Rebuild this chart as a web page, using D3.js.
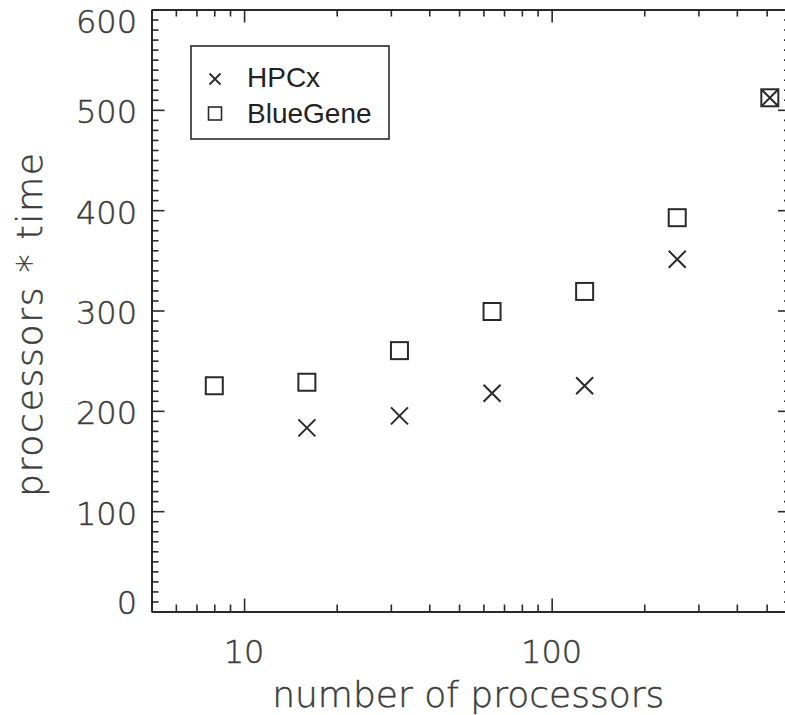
<!DOCTYPE html>
<html>
<head>
<meta charset="utf-8">
<script src="https://cdn.jsdelivr.net/npm/d3@7/dist/d3.min.js"></script>
<style>
  body { margin: 0; background: #fff; }
  svg { display: block; }
</style>
</head>
<body>
<svg id="chart"></svg>
<script>
// data
const bluegeneProcs = [8, 16, 32, 64, 128, 256, 512];
const bluegeneValues = [225, 228.5, 260, 299, 319, 392.5, 512];
const hpcxProcs = [16, 32, 64, 128, 256, 512];
const hpcxValues = [183, 195, 217.5, 225, 351, 512];

const xTickValues = [10, 100];
const xTickLabels = ["10", "100"];
const yTickValues = [0, 100, 200, 300, 400, 500, 600];
const yTickLabels = ["0", "100", "200", "300", "400", "500", "600"];

const width = 785, height = 715;
const frame = { left: 151.5, right: 791, top: 9.5, bottom: 611.5 };

const svg = d3.select("#chart")
    .attr("width", width)
    .attr("height", height);

const x = d3.scaleLog()
    .domain([5, 600])
    .range([frame.left, frame.right]);

const y = d3.scaleLinear()
    .domain([0, 600])
    .range([frame.bottom, frame.top]);

// minor ticks: 2..9 of every decade, 10 units on y
const xMinor = [];
[1, 10, 100].forEach(dec => d3.range(2, 10).forEach(m => {
    const v = m * dec;
    if (v > 5 && v < 600 && !xTickValues.includes(v)) xMinor.push(v);
}));
const yMinor = d3.range(0, 601, 10).filter(v => !yTickValues.includes(v));

const ink = "#2a2a2a";

// axes (ticks point inward, like IDL)
const bottomAxis = svg.append("g").attr("transform", `translate(0,${frame.bottom})`);
bottomAxis.call(d3.axisBottom(x).tickValues(xMinor).tickSizeInner(-7).tickSizeOuter(0).tickFormat(""));
bottomAxis.append("g").call(d3.axisBottom(x).tickValues(xTickValues).tickSizeInner(-13).tickSizeOuter(0).tickFormat(""));

const topAxis = svg.append("g").attr("transform", `translate(0,${frame.top})`);
topAxis.call(d3.axisTop(x).tickValues(xMinor).tickSizeInner(-7).tickSizeOuter(0).tickFormat(""));
topAxis.append("g").call(d3.axisTop(x).tickValues(xTickValues).tickSizeInner(-13).tickSizeOuter(0).tickFormat(""));

const leftAxis = svg.append("g").attr("transform", `translate(${frame.left},0)`);
leftAxis.call(d3.axisLeft(y).tickValues(yMinor).tickSizeInner(-7).tickSizeOuter(0).tickFormat(""));
leftAxis.append("g").call(d3.axisLeft(y).tickValues(yTickValues).tickSizeInner(-13).tickSizeOuter(0).tickFormat(""));

const rightAxis = svg.append("g").attr("transform", `translate(${frame.right},0)`);
rightAxis.call(d3.axisRight(y).tickValues(yMinor).tickSizeInner(-7).tickSizeOuter(0).tickFormat(""));
rightAxis.append("g").call(d3.axisRight(y).tickValues(yTickValues).tickSizeInner(-13).tickSizeOuter(0).tickFormat(""));

svg.selectAll(".domain").attr("stroke", ink).attr("stroke-width", 2);
svg.selectAll(".tick line").attr("stroke", ink).attr("stroke-width", 1.6);

// tick labels
const tickFont = "'DejaVu Sans', sans-serif";
const labelInk = "#3c3c3c";

svg.append("g").selectAll("text")
    .data(xTickValues)
    .join("text")
    .attr("x", d => x(d))
    .attr("y", 663)
    .attr("text-anchor", "middle")
    .attr("font-family", tickFont)
    .attr("font-weight", 300)
    .attr("font-size", 32)
    .attr("fill", labelInk)
    .attr("stroke", labelInk)
    .attr("stroke-width", 0.45)
    .text((d, i) => xTickLabels[i]);

svg.append("g").selectAll("text")
    .data(yTickValues)
    .join("text")
    .attr("x", 137)
    .attr("y", d => {
        // IDL keeps the end labels inside the axis span
        if (d === 0) return y(d) + 2;
        if (d === 600) return y(d) + 23.5;
        return y(d) + 13.5;
    })
    .attr("text-anchor", "end")
    .attr("font-family", tickFont)
    .attr("font-weight", 300)
    .attr("font-size", 32)
    .attr("fill", labelInk)
    .attr("stroke", labelInk)
    .attr("stroke-width", 0.45)
    .text((d, i) => yTickLabels[i]);

// axis titles
svg.append("text")
    .attr("x", (frame.left + frame.right) / 2 - 3)
    .attr("y", 706.5)
    .attr("text-anchor", "middle")
    .attr("font-family", tickFont)
    .attr("font-weight", 300)
    .attr("font-size", 36)
    .attr("fill", labelInk)
    .attr("stroke", labelInk)
    .attr("stroke-width", 0.45)
    .text("number of processors");

svg.append("text")
    .attr("transform", `translate(41.5,325) rotate(-90)`)
    .attr("text-anchor", "middle")
    .attr("textLength", 344)
    .attr("lengthAdjust", "spacing")
    .attr("font-family", tickFont)
    .attr("font-weight", 300)
    .attr("font-size", 36)
    .attr("fill", labelInk)
    .attr("stroke", labelInk)
    .attr("stroke-width", 0.45)
    .text("processors * time");

// markers
const sq = 17, cr = 8.5;

svg.append("g").selectAll("rect")
    .data(bluegeneProcs)
    .join("rect")
    .attr("x", d => x(d) - sq / 2)
    .attr("y", (d, i) => y(bluegeneValues[i]) - sq / 2)
    .attr("width", sq)
    .attr("height", sq)
    .attr("fill", "none")
    .attr("stroke", ink)
    .attr("stroke-width", 2);

svg.append("g").selectAll("path")
    .data(hpcxProcs)
    .join("path")
    .attr("d", (d, i) => {
        const cx = x(d), cy = y(hpcxValues[i]);
        return `M${cx - cr},${cy - cr}L${cx + cr},${cy + cr}M${cx - cr},${cy + cr}L${cx + cr},${cy - cr}`;
    })
    .attr("fill", "none")
    .attr("stroke", ink)
    .attr("stroke-width", 2);

// legend
const legend = svg.append("g");
legend.append("rect")
    .attr("x", 191).attr("y", 46)
    .attr("width", 198).attr("height", 93)
    .attr("fill", "none")
    .attr("stroke", ink)
    .attr("stroke-width", 1.6);

const lr = 5.5;
legend.append("path")
    .attr("d", `M${215 - lr},${79 - lr}L${215 + lr},${79 + lr}M${215 - lr},${79 + lr}L${215 + lr},${79 - lr}`)
    .attr("stroke", ink)
    .attr("stroke-width", 1.8);
legend.append("rect")
    .attr("x", 215 - 6.5).attr("y", 113.5 - 6.5)
    .attr("width", 13).attr("height", 13)
    .attr("fill", "none")
    .attr("stroke", ink)
    .attr("stroke-width", 1.6);

legend.selectAll("text")
    .data(["HPCx", "BlueGene"])
    .join("text")
    .attr("x", 247)
    .attr("y", (d, i) => [87, 122.5][i])
    .attr("font-family", "'Liberation Sans', Arial, sans-serif")
    .attr("font-size", 28)
    .attr("fill", "#222")
    .text(d => d);
</script>
</body>
</html>
